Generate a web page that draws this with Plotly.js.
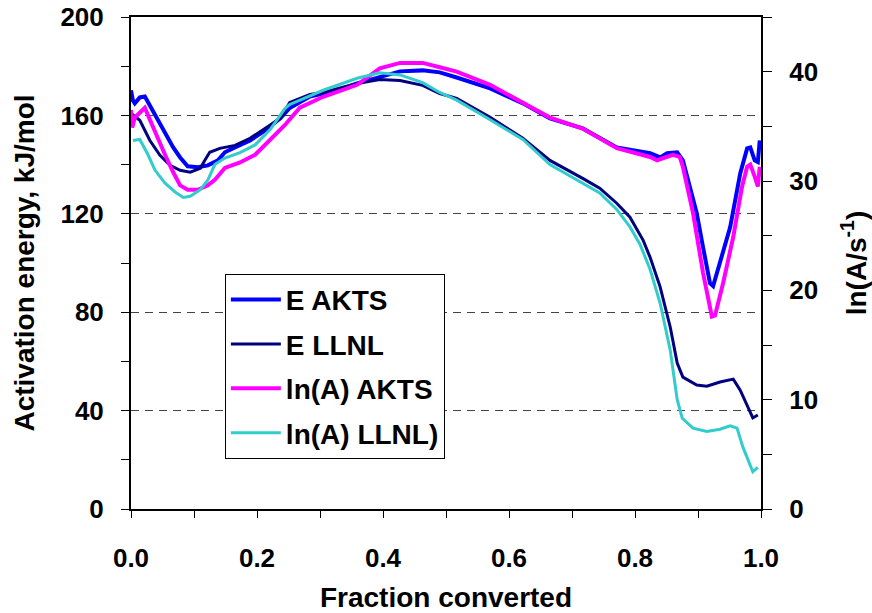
<!DOCTYPE html>
<html><head><meta charset="utf-8">
<script src="https://cdn.plot.ly/plotly-3.0.1.min.js"></script>
<style>body{margin:0;background:#fff}#c{width:872px;height:613px}</style>
</head><body><div id="c"></div>
<script>
// E AKTS (kJ/mol, left axis)
const eAktsX=[0,0.003,0.006,0.014,0.022,0.030,0.043,0.054,0.067,0.078,0.090,0.106,0.122,0.138,0.149,0.165,0.189,0.213,0.237,0.252,0.284,0.305,0.332,0.359,0.395,0.427,0.463,0.490,0.517,0.570,0.622,0.665,0.717,0.771,0.824,0.840,0.851,0.867,0.876,0.887,0.898,0.908,0.919,0.924,0.935,0.951,0.967,0.978,0.983,0.990,0.995,0.998];
const eAktsY=[170.2,166.1,164.9,167.3,167.7,164.1,158.0,152.7,147.0,142.9,139.3,138.9,139.7,141.7,145.0,147.0,149.8,153.9,158.8,163.0,167.7,168.9,170.6,173.0,175.4,177.9,178.3,177.5,175.4,171.0,164.9,158.8,154.7,147.0,144.6,142.9,144.6,145.0,141.7,130.8,120.2,106.4,91.8,90.6,99.9,114.5,136.4,146.6,147.0,141.7,141.0,149.8];
// E LLNL (kJ/mol, left axis)
const eLlnlX=[0,0.014,0.030,0.046,0.062,0.078,0.094,0.110,0.117,0.125,0.141,0.165,0.189,0.213,0.237,0.252,0.284,0.305,0.359,0.395,0.427,0.463,0.490,0.517,0.570,0.622,0.665,0.717,0.744,0.771,0.792,0.813,0.824,0.840,0.856,0.867,0.876,0.898,0.914,0.935,0.956,0.967,0.987,0.995];
const eLlnlY=[160.8,158.0,149.8,143.8,139.7,137.7,136.9,138.5,141.7,145.0,146.6,147.8,150.7,154.7,158.8,165.3,168.5,169.3,173.0,174.6,174.2,172.2,168.9,166.9,159.2,150.7,141.7,134.4,130.4,124.3,118.6,109.2,102.3,90.2,73.9,59.3,53.6,50.4,49.9,51.6,52.8,48.3,37.0,38.2];
// ln(A) AKTS (right axis)
const lnAktsX=[0,0.002,0.006,0.014,0.022,0.030,0.043,0.054,0.067,0.078,0.090,0.106,0.122,0.133,0.149,0.173,0.197,0.221,0.244,0.268,0.305,0.359,0.395,0.427,0.463,0.490,0.517,0.570,0.622,0.665,0.717,0.771,0.824,0.835,0.860,0.871,0.876,0.892,0.908,0.922,0.927,0.940,0.956,0.970,0.978,0.983,0.990,0.995,0.998];
const lnAktsY=[36.5,34.9,35.8,36.3,36.7,35.6,33.8,32.4,30.8,29.6,29.2,29.2,29.6,30.1,31.2,31.7,32.4,33.8,35.1,36.7,37.7,38.8,40.3,40.8,40.8,40.4,40.0,38.8,37.2,35.8,34.8,33.0,32.2,31.9,32.4,32.2,31.3,27.1,21.6,17.6,17.7,20.7,24.9,29.5,31.3,31.5,30.4,29.5,31.3];
// ln(A) LLNL (right axis)
const lnLlnlX=[0.003,0.014,0.027,0.038,0.054,0.070,0.083,0.094,0.110,0.122,0.133,0.149,0.173,0.197,0.221,0.244,0.252,0.305,0.359,0.395,0.427,0.463,0.490,0.517,0.570,0.622,0.665,0.717,0.744,0.771,0.792,0.808,0.824,0.840,0.856,0.867,0.875,0.892,0.914,0.935,0.951,0.962,0.971,0.987,0.995];
const lnLlnlY=[33.7,33.8,32.4,31.0,29.8,29.0,28.5,28.6,29.2,30.1,31.5,32.1,32.6,33.3,34.7,36.6,37.0,38.3,39.4,39.9,39.7,39.0,38.1,37.4,35.6,33.8,31.5,29.8,28.9,27.4,25.8,24.2,21.9,18.8,14.5,10.0,8.3,7.4,7.1,7.3,7.6,7.4,5.7,3.4,3.8];

const seriesNames=['E AKTS','E LLNL','ln(A) AKTS','ln(A) LLNL)'];
const xTickVals=[0,0.2,0.4,0.6,0.8,1.0];
const xTickText=['0.0','0.2','0.4','0.6','0.8','1.0'];

const FF='"Liberation Sans", Arial, sans-serif';
const traces=[
 {x:eAktsX,y:eAktsY,name:seriesNames[0],yaxis:'y',line:{color:'#0000FF',width:4},legendgroup:'a'},
 {x:eLlnlX,y:eLlnlY,name:seriesNames[1],yaxis:'y',line:{color:'#000080',width:3},legendgroup:'b'},
 {x:lnAktsX,y:lnAktsY,name:seriesNames[2],yaxis:'y2',line:{color:'#FF00FF',width:4},legendgroup:'c'},
 {x:lnLlnlX,y:lnLlnlY,name:seriesNames[3],yaxis:'y2',line:{color:'#33CCCC',width:3},legendgroup:'d'}
].map(t=>Object.assign({type:'scatter',mode:'lines'},t));

const layout={
 width:872,height:613,
 margin:{l:131,r:111,t:17,b:104},
 paper_bgcolor:'#fff',plot_bgcolor:'#fff',
 font:{family:FF,color:'#000',size:26,weight:700},
 showlegend:true,
 legend:{x:0.149,y:0.478,xanchor:'left',yanchor:'top',bgcolor:'#fff',bordercolor:'#000',borderwidth:1,
   font:{family:FF,size:28,weight:700,color:'#000'},tracegroupgap:5,itemwidth:50},
 xaxis:{range:[0,1],tickvals:xTickVals,ticktext:xTickText,ticks:'outside',ticklen:7,tickwidth:1,tickcolor:'#000',
   minor:{dtick:0.1,tick0:0,ticks:'outside',ticklen:7,tickwidth:1,tickcolor:'#000'},
   showline:true,linecolor:'#000',linewidth:2,mirror:true,showgrid:false,zeroline:false,
   tickfont:{family:FF,size:26,weight:700},ticklabelstandoff:18,
   title:{text:'Fraction converted',font:{family:FF,size:28,weight:700},standoff:19},automargin:false},
 yaxis:{range:[0,200],dtick:40,tick0:0,ticks:'outside',ticklen:8,tickwidth:1,tickcolor:'#000',
   minor:{dtick:20,tick0:0,ticks:'outside',ticklen:8,tickwidth:1,tickcolor:'#000'},
   showline:true,linecolor:'#000',linewidth:2,showgrid:true,gridcolor:'#444',gridwidth:1,griddash:'8px,6px',zeroline:false,
   tickfont:{family:FF,size:26,weight:700},ticklabelstandoff:12,
   title:{text:'Activation energy, kJ/mol',font:{family:FF,size:28,weight:700},standoff:18},automargin:false},
 yaxis2:{range:[0,45],dtick:10,tick0:0,overlaying:'y',side:'right',ticks:'outside',ticklen:9,tickwidth:1,tickcolor:'#000',
   minor:{dtick:5,tick0:0,ticks:'outside',ticklen:9,tickwidth:1,tickcolor:'#000'},
   showline:true,linecolor:'#000',linewidth:2,showgrid:false,zeroline:false,
   tickfont:{family:FF,size:26,weight:700},ticklabelstandoff:12,
   title:{text:'ln(A/s<sup>-1</sup>)',font:{family:FF,size:28,weight:700},standoff:30},automargin:false}
};
Plotly.newPlot('c',traces,layout,{displayModeBar:false,staticPlot:true});
</script></body></html>
